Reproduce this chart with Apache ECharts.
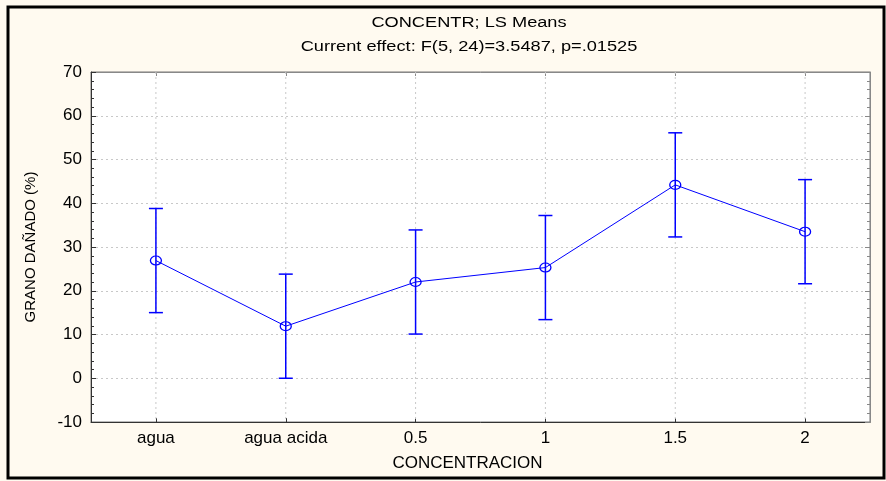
<!DOCTYPE html>
<html>
<head>
<meta charset="utf-8">
<script src="https://cdn.jsdelivr.net/npm/echarts@6/dist/echarts.min.js"></script>
<style>
html,body{margin:0;padding:0;background:#fffaf0;}
#chart{width:886px;height:481px;}
</style>
</head>
<body>
<div id="chart"></div>
<script>
var categories = ['agua', 'agua acida', '0.5', '1', '1.5', '2'];
var means = [26.9, 11.9, 22.0, 25.3, 44.2, 33.5];
var lowers = [15.0, 0.0, 10.1, 13.4, 32.3, 21.6];
var uppers = [38.8, 23.8, 33.9, 37.2, 56.1, 45.4];
var titleText = 'CONCENTR; LS Means';
var subText = 'Current effect: F(5, 24)=3.5487, p=.01525';
var xName = 'CONCENTRACION';
var yName = 'GRANO DAÑADO (%)';

var FONT = "'Liberation Sans', Arial, sans-serif";
var BLUE = '#0000ff';

var chart = echarts.init(document.getElementById('chart'), null, {renderer: 'canvas'});

var errData = categories.map(function (c, i) { return [i, lowers[i], uppers[i]]; });
var gridData = categories.map(function (c, i) { return [i]; });

var option = {
  backgroundColor: '#fffaf0',
  animation: false,
  graphic: [
    {type: 'rect', shape: {x: 8, y: 7, width: 876, height: 471}, style: {fill: 'none', stroke: '#000', lineWidth: 3}, silent: true, z: 100},
    {type: 'text', x: 469, y: 23, scaleX: 1.3, silent: true,
      style: {text: titleText, font: "14px " + FONT, fill: '#000', textAlign: 'center', textVerticalAlign: 'middle'}},
    {type: 'text', x: 469, y: 47, scaleX: 1.3, silent: true,
      style: {text: subText, font: "14px " + FONT, fill: '#000', textAlign: 'center', textVerticalAlign: 'middle'}}
  ],
  grid: {left: 91, right: 16, top: 72, bottom: 59, show: true, backgroundColor: '#ffffff', borderColor: '#777', borderWidth: 1},
  xAxis: [
    {
      type: 'category', data: categories, boundaryGap: true, position: 'bottom',
      name: xName, nameLocation: 'middle', nameGap: 33,
      nameTextStyle: {fontFamily: FONT, fontSize: 17, color: '#000', padding: [0, 26, 0, 0]},
      axisLine: {show: true, onZero: false, lineStyle: {color: '#333', width: 1}},
      axisTick: {show: true, inside: true, alignWithLabel: true, length: 4, lineStyle: {color: '#333'}},
      axisLabel: {fontFamily: FONT, fontSize: 17, color: '#000', margin: 8},
      splitLine: {show: false}
    },
    {
      type: 'category', data: categories, boundaryGap: true, position: 'top',
      axisLine: {show: true, onZero: false, lineStyle: {color: '#888', width: 1}},
      axisTick: {show: true, inside: true, alignWithLabel: true, length: 4, lineStyle: {color: '#888'}},
      axisLabel: {show: false}, splitLine: {show: false}
    }
  ],
  yAxis: [
    {
      type: 'value', min: -10, max: 70, interval: 10, position: 'left',
      name: yName, nameLocation: 'middle', nameGap: 53, nameRotate: 90,
      nameTextStyle: {fontFamily: FONT, fontSize: 15, color: '#000'},
      axisLine: {show: true, onZero: false, lineStyle: {color: '#333', width: 1}},
      axisTick: {show: true, inside: true, length: 5, lineStyle: {color: '#333'}},
      minorTick: {show: true, splitNumber: 5, length: 3, lineStyle: {color: '#333'}},
      axisLabel: {fontFamily: FONT, fontSize: 17, color: '#000', margin: 9},
      splitLine: {show: true, lineStyle: {color: '#c8c8c8', type: [2, 3], width: 1}}
    },
    {
      type: 'value', min: -10, max: 70, interval: 10, position: 'right',
      axisLine: {show: true, onZero: false, lineStyle: {color: '#888', width: 1}},
      axisTick: {show: true, inside: true, length: 5, lineStyle: {color: '#888'}},
      minorTick: {show: true, splitNumber: 5, length: 3, lineStyle: {color: '#888'}},
      axisLabel: {show: false}, splitLine: {show: false}
    }
  ],
  series: [
    {
      type: 'custom', xAxisIndex: 0, yAxisIndex: 0, z: 1, silent: true,
      data: gridData,
      renderItem: function (params, api) {
        var top = api.coord([api.value(0), 70]);
        var bot = api.coord([api.value(0), -10]);
        return {type: 'line', shape: {x1: top[0], y1: top[1], x2: bot[0], y2: bot[1]},
          style: {stroke: '#c8c8c8', lineWidth: 1, lineDash: [2, 3]}};
      }
    },
    {
      type: 'custom', xAxisIndex: 0, yAxisIndex: 0, z: 3, silent: true,
      data: errData,
      renderItem: function (params, api) {
        var x = api.value(0);
        var lo = api.coord([x, api.value(1)]);
        var hi = api.coord([x, api.value(2)]);
        var hw = 7;
        var st = {stroke: BLUE, lineWidth: 1.5};
        return {type: 'group', children: [
          {type: 'line', shape: {x1: lo[0], y1: lo[1], x2: hi[0], y2: hi[1]}, style: st},
          {type: 'line', shape: {x1: hi[0] - hw, y1: hi[1], x2: hi[0] + hw, y2: hi[1]}, style: st},
          {type: 'line', shape: {x1: lo[0] - hw, y1: lo[1], x2: lo[0] + hw, y2: lo[1]}, style: st}
        ]};
      }
    },
    {
      type: 'line', xAxisIndex: 0, yAxisIndex: 0, z: 4, data: means,
      symbol: 'circle', symbolSize: [11, 9], showAllSymbol: true,
      lineStyle: {color: BLUE, width: 1},
      itemStyle: {color: 'rgba(255,255,255,0)', borderColor: BLUE, borderWidth: 1.2}
    }
  ]
};
chart.setOption(option);
</script>
</body>
</html>
